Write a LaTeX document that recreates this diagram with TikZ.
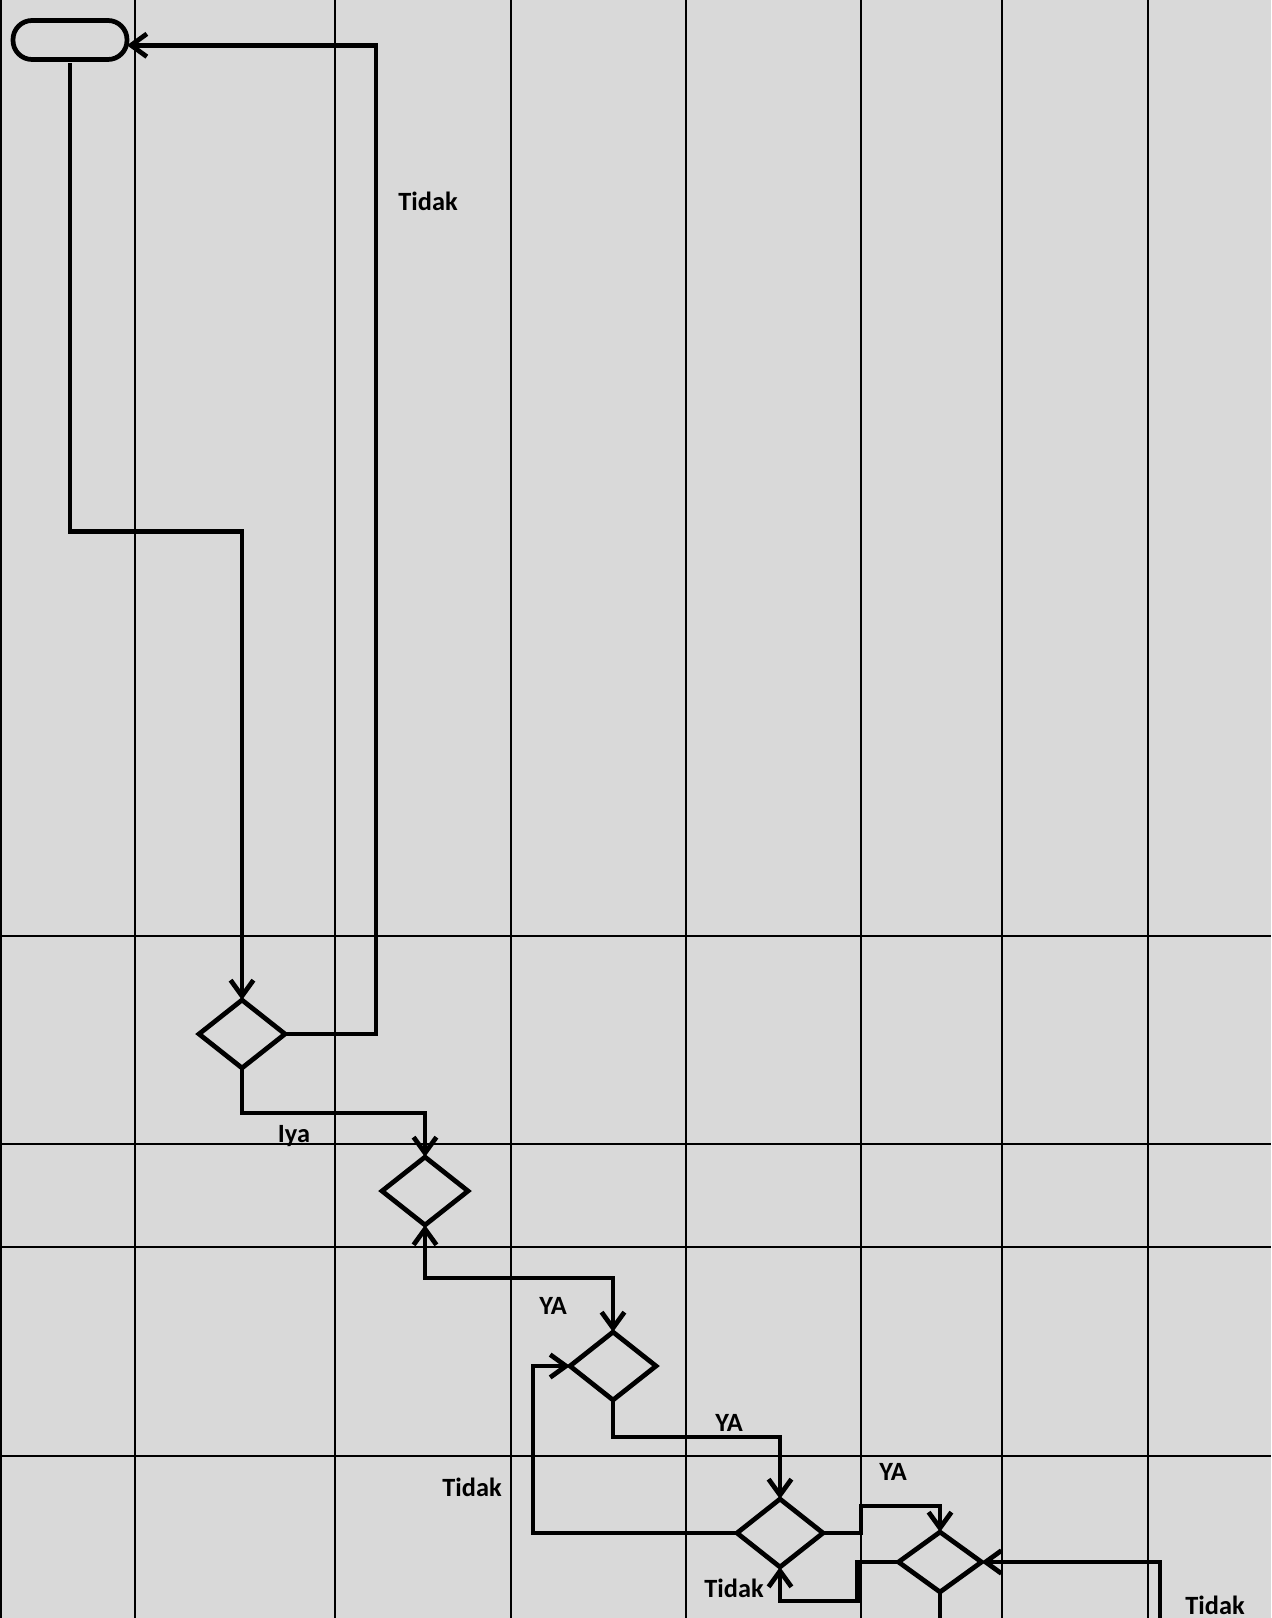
\documentclass[tikz,border=0pt]{standalone}
\usepackage{fontspec}
\setmainfont{Carlito}
\usetikzlibrary{shapes.geometric, arrows.meta}
\definecolor{latar}{RGB}{217,217,217}
\tikzstyle{startstop} = [rectangle, rounded corners=0.38cm, minimum width=2.28cm, minimum height=0.78cm, inner sep=0pt, outer sep=0pt, draw=black, line width=2.7pt, fill=latar]
\tikzstyle{decision} = [diamond, minimum width=1.72cm, minimum height=1.36cm, inner sep=0pt, outer sep=0pt, draw=black, line width=2.7pt, fill=latar]
\tikzstyle{teks} = [font=\fontsize{15}{18}\selectfont\bfseries, inner sep=0pt]
\tikzstyle{kisi} = [line width=1.2pt, black]
\tikzstyle{garis} = [line width=2.7pt]
\tikzstyle{arrow} = [garis,->,>={Straight Barb[length=9pt,width=13pt]}]

\begin{document}
\begin{tikzpicture}[x=0.02cm, y=-0.02cm]

\fill [latar] (0,0) rectangle (1271,1618);
\useasboundingbox (0,0) rectangle (1271,1618);

% Kisi
\foreach \x in {1,135,335,511,686,861,1002,1148}
  \draw [kisi] (\x,0) -- (\x,1618);
\foreach \y in {936,1144,1247,1456}
  \draw [kisi] (0,\y) -- (1271,\y);

% Node
\node (start) [startstop] at (70,40) {};
\node (d1) [decision] at (242,1034) {};
\node (d2) [decision] at (425,1191) {};
\node (d3) [decision] at (613,1366) {};
\node (d4) [decision] at (780,1533) {};
\node (d5) [decision, minimum width=1.66cm, minimum height=1.2cm] at (940,1562) {};
\coordinate (ujung1) at (1160,1618);
\coordinate (ujung2) at (940,1618);

\node (tidak1) [teks] at (428,201) {Tidak};
\node (iya) [teks] at (294,1136) {Iya};
\node (ya1) [teks] at (553,1306) {YA};
\node (ya2) [teks] at (729,1423) {YA};
\node (tidak2) [teks] at (472,1487) {Tidak};
\node (ya3) [teks] at (893,1472) {YA};
\node (tidak3) [teks] at (734,1588) {Tidak};
\node (tidak4) [teks] at (1215,1605) {Tidak};

% Koneksi
\draw [arrow, shorten <=2pt] (start.south) -- ++(0,472) -| (d1.north);
\draw [arrow] (d1.east) -- ++(91,0) |- ([yshift=-3]start.east);
\draw [arrow] (d1.south) -- ++(0,45) -| (d2.north);
\draw [arrow, <->] (d2.south) -- ++(0,53) -| (d3.north);
\draw [arrow] (d3.south) -- ++(0,37) -| (d4.north);
\draw [arrow] (d4.west) -- ++(-204,0) |- (d3.west);
\draw [arrow] (d4.east) -- ++(38,0) -- ++(0,-27) -| (d5.north);
\draw [arrow] (d5.west) -- ++(-41,0) -- ++(0,39) -| (d4.south);
\draw [arrow] (ujung1) |- (d5.east);
\draw [garis] (d5.south) -- (ujung2);

\end{tikzpicture}
\end{document}
